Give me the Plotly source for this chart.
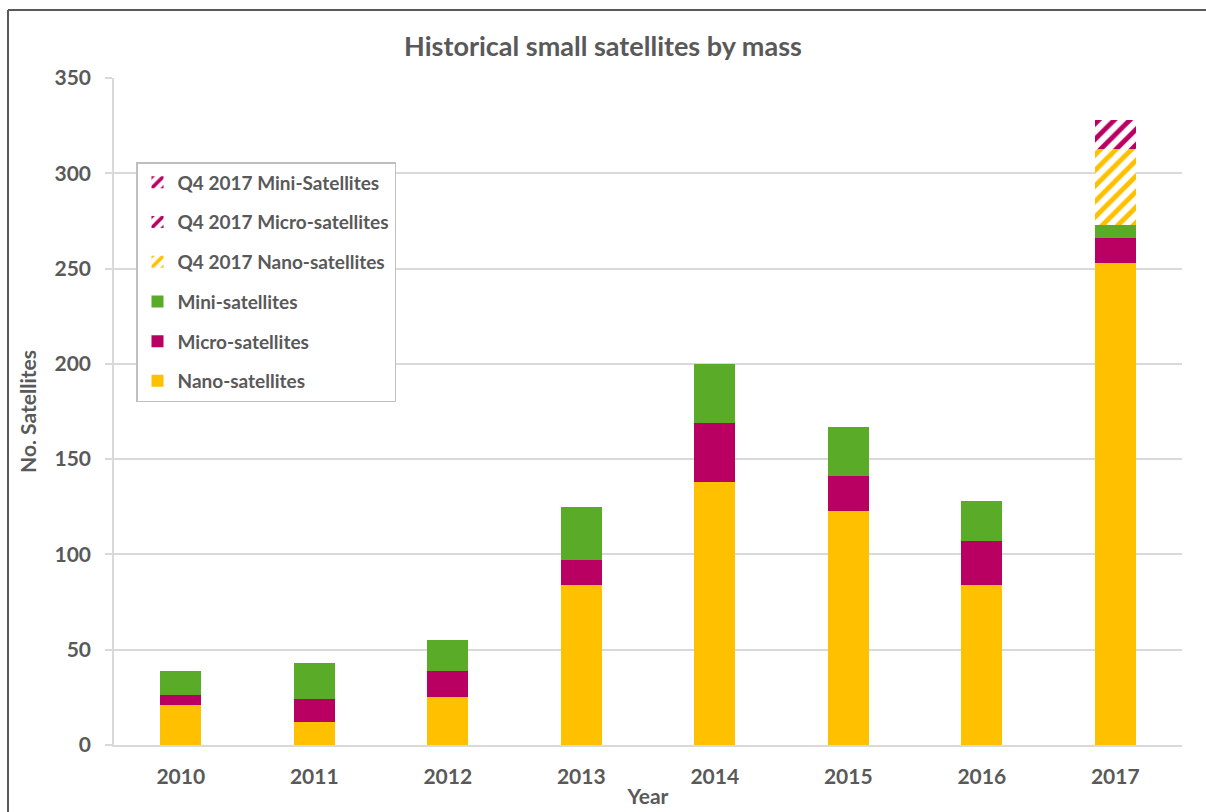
import plotly.graph_objects as go

years = ["2010", "2011", "2012", "2013", "2014", "2015", "2016", "2017"]
nano = [21, 12, 25, 84, 138, 123, 84, 253]
micro = [5, 12, 14, 13, 31, 18, 23, 13]
mini = [13, 19, 16, 28, 31, 26, 21, 7]
q4_nano = [0, 0, 0, 0, 0, 0, 0, 40]
q4_micro = [0, 0, 0, 0, 0, 0, 0, 15]
q4_mini = [0, 0, 0, 0, 0, 0, 0, 0]

YELLOW = "#FFC000"
MAGENTA = "#B90062"
GREEN = "#5AAC28"
TXT = "#595959"
GRID = "#D9D9D9"
FONT = "Lato"

fig = go.Figure()

series = [
    ("Nano-satellites", nano, YELLOW, None),
    ("Micro-satellites", micro, MAGENTA, None),
    ("Mini-satellites", mini, GREEN, None),
    ("Q4 2017 Nano-satellites", q4_nano, YELLOW, "/"),
    ("Q4 2017 Micro-satellites", q4_micro, MAGENTA, "/"),
    ("Q4 2017 Mini-Satellites", q4_mini, MAGENTA, "/"),
]

for i, (name, vals, col, pat) in enumerate(series):
    if pat is None:
        marker = dict(color=col, line=dict(width=0))
    else:
        marker = dict(color="white", line=dict(width=0),
                      pattern=dict(shape=pat, fgcolor=col, bgcolor="white",
                                   size=11, solidity=0.45, fillmode="replace",
                                   fgopacity=1))
    fig.add_trace(go.Bar(x=years, y=vals, name=name, marker=marker,
                         legendgroup=name, legendrank=100 - i))

fig.update_layout(
    barmode="stack",
    bargap=0.69,
    width=1206, height=812,
    margin=dict(l=114, r=24, t=78, b=67),
    paper_bgcolor="white", plot_bgcolor="white",
    font=dict(family=FONT, color=TXT),
    title=dict(text="<b>Historical small satellites by mass</b>",
               x=0.5, xanchor="center", y=1 - 47 / 812, yanchor="middle",
               font=dict(size=27, color=TXT, family=FONT)),
    legend=dict(x=(136 - 114) / 1068, y=(745 - 162) / 667,
                xanchor="left", yanchor="top",
                bordercolor="#BFBFBF", borderwidth=1.5, bgcolor="white",
                traceorder="grouped", tracegroupgap=12,
                font=dict(size=19, color=TXT, family=FONT, weight="bold"),
                itemwidth=30),
    showlegend=True,
)

fig.update_xaxes(
    type="category", automargin=False,
    showline=True, linecolor=GRID, linewidth=2,
    ticks="", showgrid=False,
    ticklabelstandoff=12,
    tickfont=dict(size=21, color=TXT, family=FONT, weight="bold"),
    title=dict(text="<b>Year</b>", font=dict(size=21, color=TXT, family=FONT), standoff=2),
)
fig.update_yaxes(
    range=[0, 350], dtick=50, automargin=False,
    showgrid=True, gridcolor=GRID, gridwidth=1.5,
    zeroline=False,
    showline=True, linecolor=GRID, linewidth=1.5,
    ticks="outside", ticklen=7, tickcolor=GRID, tickwidth=1.5,
    ticklabelstandoff=10,
    tickfont=dict(size=21, color=TXT, family=FONT, weight="bold"),
    title=dict(text="<b>No. Satellites</b>", font=dict(size=21, color=TXT, family=FONT), standoff=12),
)

# outer chart frame (top and left edges)
fig.add_shape(type="line", xref="paper", yref="paper",
              x0=(8 - 114) / 1068, x1=(1206 - 114) / 1068,
              y0=(745 - 10) / 667, y1=(745 - 10) / 667,
              line=dict(color="#595959", width=2))
fig.add_shape(type="line", xref="paper", yref="paper",
              x0=(8 - 114) / 1068, x1=(8 - 114) / 1068,
              y0=(745 - 10) / 667, y1=(745 - 812) / 667,
              line=dict(color="#595959", width=2))

fig.write_html("out.html")
